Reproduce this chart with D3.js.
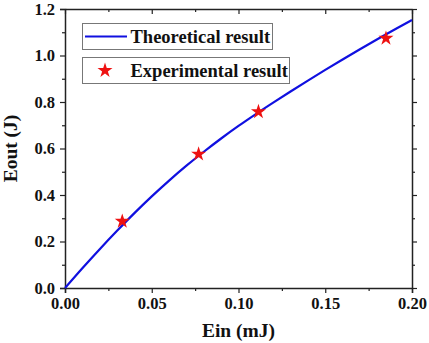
<!DOCTYPE html>
<html>
<head>
<meta charset="utf-8">
<script src="https://cdn.jsdelivr.net/npm/d3@7"></script>
<style>
  body { margin: 0; background: #fff; }
  text { font-family: "Liberation Serif", "Times New Roman", serif; font-weight: bold; }
</style>
</head>
<body>
<div id="chart"></div>
<script>
// theoretical curve
const theoryX = [0, 0.01, 0.02, 0.03, 0.04, 0.05, 0.06, 0.07, 0.08, 0.09, 0.10, 0.11, 0.12, 0.13, 0.14, 0.15, 0.16, 0.17, 0.18, 0.19, 0.20];
const theoryY = [0, 0.085, 0.167, 0.246, 0.322, 0.394, 0.462, 0.526, 0.586, 0.643, 0.697, 0.748, 0.797, 0.845, 0.892, 0.938, 0.983, 1.027, 1.070, 1.112, 1.153];

// experimental points
const expX = [0.033, 0.077, 0.1115, 0.185];
const expY = [0.287, 0.576, 0.758, 1.074];

const xTicks = [0, 0.05, 0.10, 0.15, 0.20];
const yTicks = [0, 0.2, 0.4, 0.6, 0.8, 1.0, 1.2];
const legendLabels = ["Theoretical result", "Experimental result"];

const width = 429, height = 343;
const margin = {top: 9, right: 17, bottom: 55, left: 65};

const svg = d3.select("#chart").append("svg")
    .attr("width", width)
    .attr("height", height);

const x = d3.scaleLinear().domain([0, 0.2]).range([margin.left, width - margin.right]);
const y = d3.scaleLinear().domain([0, 1.2]).range([height - margin.bottom, margin.top]);

const minorX = d3.range(0.025, 0.2, 0.05);
const minorY = d3.range(0.1, 1.2, 0.2);

function styleAxis(g) {
    g.select(".domain").attr("stroke", "#222").attr("stroke-width", 1.5);
    g.selectAll(".tick line").attr("stroke", "#222").attr("stroke-width", 1.2);
    g.selectAll(".tick text").style("font-size", "16.5px").attr("fill", "#111");
}

// bottom axis (ticks outward)
const gx = svg.append("g")
    .attr("transform", `translate(0,${y(0)})`)
    .call(d3.axisBottom(x).tickValues(xTicks).tickFormat(d3.format(".2f")).tickSize(5).tickPadding(4));
styleAxis(gx);
svg.append("g")
    .attr("transform", `translate(0,${y(0)})`)
    .call(d3.axisBottom(x).tickValues(minorX).tickFormat("").tickSize(3))
    .call(g => g.select(".domain").remove())
    .call(styleAxis);

// left axis (ticks outward)
const gy = svg.append("g")
    .attr("transform", `translate(${x(0)},0)`)
    .call(d3.axisLeft(y).tickValues(yTicks).tickFormat(d3.format(".1f")).tickSize(5).tickPadding(5));
styleAxis(gy);
svg.append("g")
    .attr("transform", `translate(${x(0)},0)`)
    .call(d3.axisLeft(y).tickValues(minorY).tickFormat("").tickSize(3))
    .call(g => g.select(".domain").remove())
    .call(styleAxis);

// top and right mirror axes (ticks inward)
svg.append("g")
    .attr("transform", `translate(0,${y(1.2)})`)
    .call(d3.axisBottom(x).tickValues(xTicks).tickFormat("").tickSize(5).tickSizeOuter(0))
    .call(styleAxis);
svg.append("g")
    .attr("transform", `translate(0,${y(1.2)})`)
    .call(d3.axisBottom(x).tickValues(minorX).tickFormat("").tickSize(3))
    .call(g => g.select(".domain").remove())
    .call(styleAxis);
svg.append("g")
    .attr("transform", `translate(${x(0.2)},0)`)
    .call(d3.axisLeft(y).tickValues(yTicks).tickFormat("").tickSize(-5).tickSizeOuter(0))
    .call(styleAxis);
svg.append("g")
    .attr("transform", `translate(${x(0.2)},0)`)
    .call(d3.axisLeft(y).tickValues(minorY).tickFormat("").tickSize(-3))
    .call(g => g.select(".domain").remove())
    .call(styleAxis);

// axis titles
svg.append("text")
    .attr("x", (x(0) + x(0.2)) / 2)
    .attr("y", 337)
    .attr("text-anchor", "middle")
    .style("font-size", "19.5px")
    .attr("fill", "#111")
    .text("Ein (mJ)");

svg.append("text")
    .attr("transform", `translate(17,${(y(0) + y(1.2)) / 2}) rotate(-90)`)
    .attr("text-anchor", "middle")
    .style("font-size", "19.5px")
    .attr("fill", "#111")
    .text("Eout (J)");

// theoretical line
const line = d3.line()
    .x((d, i) => x(theoryX[i]))
    .y(d => y(d))
    .curve(d3.curveMonotoneX);

svg.append("path")
    .datum(theoryY)
    .attr("d", line)
    .attr("fill", "none")
    .attr("stroke", "#1010e0")
    .attr("stroke-width", 2.2);

// experimental stars
const star = d3.symbol().type(d3.symbolStar).size(70);
svg.selectAll(".star")
    .data(expY)
    .enter()
    .append("path")
    .attr("class", "star")
    .attr("transform", (d, i) => `translate(${x(expX[i])},${y(d)})`)
    .attr("d", star)
    .attr("fill", "#ee1111");

// legend boxes
const legend = svg.append("g");
const boxes = [
    {x0: 82.5, y0: 23.5, w: 190, h: 26},
    {x0: 82.5, y0: 57.5, w: 207, h: 26}
];
boxes.forEach((b, i) => {
    legend.append("rect")
        .attr("x", b.x0).attr("y", b.y0)
        .attr("width", b.w).attr("height", b.h)
        .attr("fill", "#fff")
        .attr("stroke", "#777")
        .attr("stroke-width", 1);
    legend.append("text")
        .attr("x", 130.5)
        .attr("y", b.y0 + b.h / 2 + 6)
        .style("font-size", "18.5px")
        .attr("fill", "#111")
        .text(legendLabels[i]);
});
legend.append("line")
    .attr("x1", 85).attr("x2", 127)
    .attr("y1", 36.5).attr("y2", 36.5)
    .attr("stroke", "#1010e0")
    .attr("stroke-width", 2.2);
legend.append("path")
    .attr("transform", "translate(105,70.5)")
    .attr("d", star)
    .attr("fill", "#ee1111");
</script>
</body>
</html>
